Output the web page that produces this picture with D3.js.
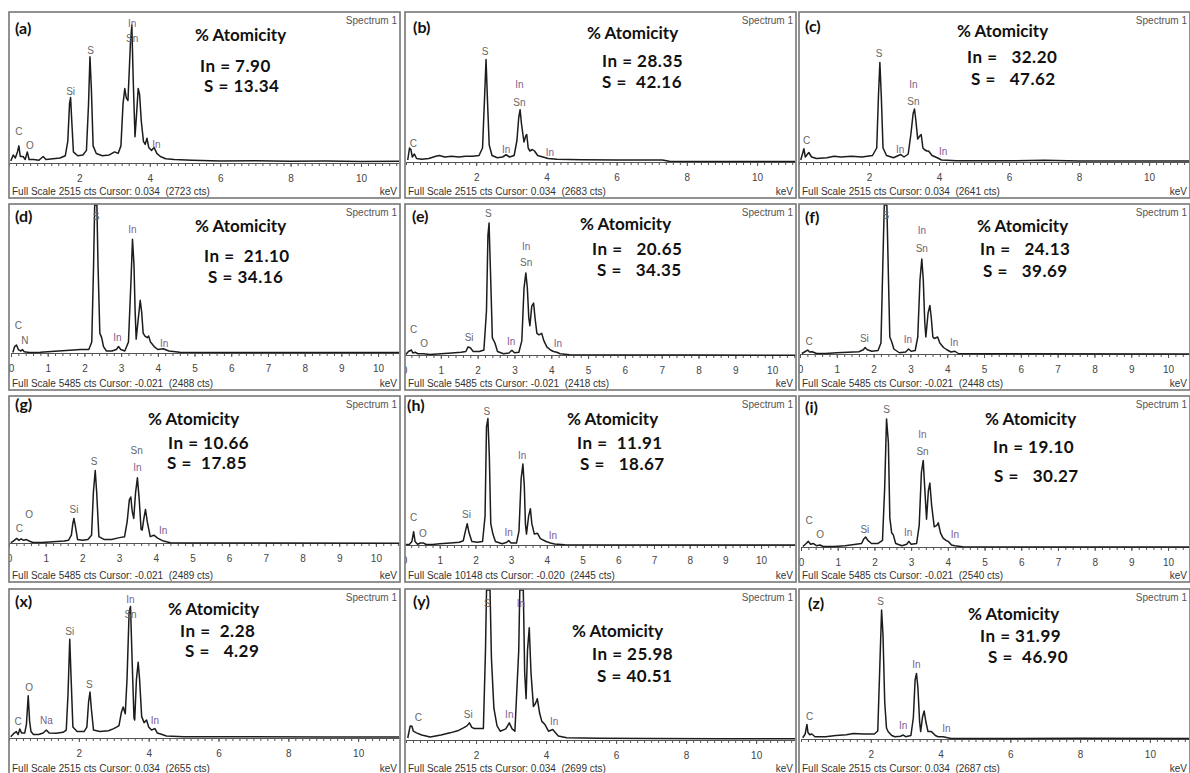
<!DOCTYPE html>
<html>
<head>
<meta charset="utf-8">
<script src="https://cdn.jsdelivr.net/npm/d3@7"></script>
<style>
body{margin:0;background:#fff;}
svg{display:block;}
.tag,.atom{font-family:Lato,"Open Sans",sans-serif;font-weight:700;fill:#111;white-space:pre;}
.small{font-family:"Liberation Sans",Arial,sans-serif;font-size:10px;fill:#444;white-space:pre;}
.axis path,.axis line{stroke:#555;}
.axis text{font-family:"Liberation Sans",Arial,sans-serif;font-size:10px;fill:#444;}
</style>
</head>
<body>
<div id="chart"></div>
<script>
//面板编号及成分数据
var tags = ["a", "b", "c", "d", "e", "f", "g", "h", "i", "x", "y", "z"];
var inAt = [7.90, 28.35, 32.20, 21.10, 20.65, 24.13, 10.66, 11.91, 19.10, 2.28, 25.98, 31.99];
var sAt = [13.34, 42.16, 47.62, 34.16, 34.35, 39.69, 17.85, 18.67, 30.27, 4.29, 40.51, 46.90];
var fullScale = [2515, 2515, 2515, 5485, 5485, 5485, 5485, 10148, 5485, 2515, 2515, 2515];
var cursorKeV = [0.034, 0.034, 0.034, -0.021, -0.021, -0.021, -0.021, -0.020, -0.021, 0.034, 0.034, 0.034];
var cursorCts = [2723, 2683, 2641, 2488, 2418, 2448, 2489, 2445, 2540, 2655, 2699, 2687];

//刻度
var ticksWide = [2, 4, 6, 8, 10];
var ticksFine = [0, 1, 2, 3, 4, 5, 6, 7, 8, 9, 10];

//谱线 [keV, 满量程百分比]
var specA = [[0.05,2],[0.12,6],[0.18,4],[0.24,8],[0.28,12],[0.32,5],[0.4,5],[0.46,3],[0.52,8],[0.57,3],[0.7,3],[0.85,2.5],[0.97,5],[1.05,3],[1.25,3.5],[1.45,4],[1.6,5.5],[1.67,15],[1.72,40],[1.75,44],[1.78,30],[1.83,8],[1.95,5.5],[2.1,6],[2.2,9],[2.26,40],[2.3,71],[2.34,50],[2.39,12],[2.48,7],[2.65,5.5],[2.85,6],[3.0,8],[3.1,7],[3.18,12],[3.24,40],[3.29,50],[3.33,44],[3.38,42],[3.45,80],[3.49,92],[3.53,55],[3.58,18],[3.63,35],[3.67,50],[3.71,46],[3.76,28],[3.82,15],[3.87,13],[3.92,17],[3.97,11],[4.05,9],[4.12,11],[4.2,7],[4.3,5],[4.45,3.5],[4.7,3],[5.2,2.5],[6,2],[7,2.2],[8,1.8],[9,2],[10,1.7],[11.2,1.8]];
var specB = [[0.05,2],[0.1,10],[0.14,9],[0.18,4],[0.24,6],[0.3,3],[0.45,2.5],[0.65,3],[0.85,4.5],[0.95,5],[1.1,4],[1.3,4.5],[1.5,4],[1.7,4.5],[1.9,4.5],[2.08,5],[2.18,10],[2.24,45],[2.28,69],[2.32,42],[2.37,12],[2.45,5],[2.6,3.5],[2.75,4],[2.85,5.5],[2.95,4],[3.08,5],[3.16,15],[3.21,30],[3.25,35.5],[3.29,26],[3.36,14],[3.41,18],[3.44,19],[3.48,10],[3.53,8],[3.6,9],[3.66,8],[3.75,5],[3.9,4],[4.05,3],[4.3,2.5],[5,2.2],[6,2],[7.3,2],[7.5,1.2],[9,1],[11.2,1]];
var specC = [[0.05,2],[0.14,9.5],[0.18,4],[0.28,7],[0.36,4],[0.5,3],[0.8,3.5],[1.0,4.5],[1.2,4],[1.5,4.5],[1.8,4],[2.1,5],[2.22,10],[2.27,45],[2.31,67],[2.35,45],[2.4,10],[2.5,5],[2.7,3.5],[2.9,5.7],[3.0,4],[3.12,6],[3.2,20],[3.26,33],[3.3,36],[3.34,28],[3.39,16],[3.45,18],[3.49,19],[3.54,10],[3.58,9],[3.65,8],[3.7,8],[3.8,5],[3.95,3.5],[4.07,2],[4.5,1.5],[6,1.5],[7,1.8],[8,1.3],[11.2,1.3]];
var specD = [[0.05,1],[0.1,5],[0.15,6],[0.2,3],[0.27,2],[0.31,3],[0.36,1.5],[0.5,1],[0.8,1.2],[1.0,1.5],[1.3,2],[1.6,2.5],[1.9,3],[2.12,3],[2.2,8],[2.25,60],[2.28,100],[2.34,100],[2.37,60],[2.42,14],[2.47,11],[2.52,5],[2.6,2],[2.75,2],[2.87,3],[2.93,5],[2.99,3],[3.1,2],[3.2,8],[3.27,50],[3.31,77],[3.35,60],[3.38,30],[3.41,10],[3.46,22],[3.52,36],[3.56,28],[3.6,14],[3.65,12],[3.71,11],[3.75,12],[3.8,8],[3.9,5],[4.0,3],[4.15,3.5],[4.3,2],[4.6,1.2],[6,1],[8,1],[10.7,1]];
var specE = [[0.05,1],[0.12,3],[0.2,4],[0.24,2],[0.3,2.5],[0.38,1.5],[0.53,1.5],[0.7,1],[1.0,1.5],[1.3,2],[1.55,2.5],[1.68,3],[1.74,6],[1.8,5.5],[1.88,3],[2.05,3],[2.17,4],[2.24,30],[2.28,80],[2.31,88],[2.35,55],[2.4,12],[2.47,8.6],[2.54,3],[2.7,1.5],[2.85,2],[2.93,3.8],[3.0,2.2],[3.12,2.5],[3.2,10],[3.26,45],[3.31,55],[3.35,45],[3.39,25],[3.42,20],[3.47,33],[3.52,35],[3.56,25],[3.61,15],[3.67,14],[3.74,15],[3.8,10],[3.88,6],[3.98,4],[4.06,3],[4.15,2.5],[4.24,1.5],[4.5,0.8],[6,0.6],[8,0.6],[10.7,0.5]];
var specF = [[0.05,1],[0.12,2],[0.21,3.3],[0.26,2],[0.33,2.2],[0.45,1],[0.7,1],[1.0,1.5],[1.3,1.8],[1.6,2.2],[1.72,3.5],[1.77,5],[1.83,3.5],[1.95,2.5],[2.12,3],[2.2,8],[2.25,60],[2.29,100],[2.36,100],[2.4,55],[2.44,12],[2.49,9],[2.55,4],[2.7,1.5],[2.87,2],[2.95,4],[3.02,2.5],[3.13,3],[3.2,12],[3.26,50],[3.31,64],[3.35,50],[3.39,22],[3.42,12],[3.48,28],[3.53,33],[3.57,24],[3.61,12],[3.65,11],[3.74,12],[3.8,8],[3.9,5],[3.99,3.5],[4.1,2],[4.21,2.5],[4.3,1],[5,0.8],[10.7,0.6]];
var specG = [[0.05,1],[0.12,2],[0.21,3.8],[0.27,2.5],[0.33,3.5],[0.4,2.5],[0.48,3],[0.55,2],[0.65,1],[0.9,1],[1.2,1.5],[1.5,2],[1.62,2.5],[1.7,6],[1.74,14],[1.77,17.4],[1.81,12],[1.87,3],[2.0,2.5],[2.15,3],[2.25,6],[2.3,35],[2.35,50],[2.39,35],[2.45,5],[2.6,3],[2.8,3],[2.95,4],[3.05,4.5],[3.15,5],[3.22,15],[3.28,30],[3.32,32],[3.36,22],[3.4,17.4],[3.45,35],[3.5,45],[3.55,30],[3.6,10],[3.63,9.5],[3.68,18],[3.72,23.5],[3.77,15],[3.85,5],[3.95,6],[4.05,4],[4.21,2],[4.4,0.8],[5,0.6],[7,0.6],[10.7,0.5]];
var specH = [[0.05,1],[0.15,1],[0.22,3],[0.27,9.6],[0.31,3],[0.38,1.2],[0.46,2],[0.55,2],[0.62,1],[0.8,1],[1.0,1.5],[1.3,2],[1.55,2.5],[1.66,3.5],[1.72,10],[1.77,15],[1.82,9],[1.9,3],[2.05,2.5],[2.2,3],[2.27,20],[2.31,80],[2.35,85.5],[2.39,60],[2.43,15],[2.49,8],[2.56,3],[2.75,1.5],[2.88,2.5],[2.93,3.6],[3.0,2],[3.15,2],[3.22,10],[3.28,45],[3.33,55],[3.37,40],[3.4,15],[3.43,8],[3.49,20],[3.54,25],[3.58,15],[3.65,8],[3.74,8.5],[3.82,5],[3.98,3],[4.1,2],[4.22,1.3],[4.5,0.8],[6,0.7],[8,0.7],[11,0.7]];
var specI = [[0.05,1],[0.14,3],[0.2,4.4],[0.26,2.5],[0.33,3],[0.42,1.5],[0.52,2],[0.6,1],[0.9,1],[1.2,1.5],[1.5,2.5],[1.65,3],[1.71,6],[1.76,7.3],[1.82,5],[1.92,3],[2.1,3],[2.22,5],[2.28,40],[2.33,85.5],[2.38,70],[2.42,20],[2.47,10],[2.51,9],[2.58,3],[2.75,1.5],[2.88,2.5],[2.94,4.4],[3.0,2.5],[3.15,3],[3.22,15],[3.28,50],[3.33,58],[3.37,40],[3.42,19],[3.47,38],[3.51,43],[3.56,28],[3.63,14],[3.7,15],[3.74,16.7],[3.8,10],[3.87,6.5],[3.95,5],[4.01,4.4],[4.1,2],[4.19,1.5],[4.4,0.8],[6,0.7],[10.7,0.7]];
var specX = [[0.05,1.5],[0.15,4],[0.21,5],[0.26,3],[0.31,6.7],[0.36,4],[0.45,4],[0.5,10],[0.55,29],[0.59,12],[0.63,5],[0.7,3],[0.85,3],[0.98,4],[1.07,6],[1.15,4],[1.35,3.8],[1.55,4.5],[1.64,6],[1.69,30],[1.74,67],[1.78,40],[1.83,8],[1.95,5],[2.15,5],[2.23,8],[2.28,25],[2.32,31.5],[2.36,20],[2.42,6],[2.6,5],[2.85,5.5],[3.0,7],[3.08,8],[3.15,9],[3.22,18],[3.27,21.5],[3.33,17],[3.38,40],[3.44,85],[3.48,89],[3.53,50],[3.58,14],[3.6,12.7],[3.65,40],[3.7,51.5],[3.74,40],[3.8,15],[3.87,11],[3.94,12.7],[4.0,8],[4.08,6],[4.18,7],[4.25,4],[4.32,3.5],[4.51,2],[5,1.5],[7,1.5],[9,1.3],[11.2,1.3]];
var specY = [[0.05,2],[0.12,10],[0.17,9.8],[0.21,6.5],[0.3,5.4],[0.45,4],[0.69,2.6],[1.0,4],[1.26,5.4],[1.5,7],[1.64,8.7],[1.74,10],[1.81,12],[1.88,9],[1.95,8.3],[2.21,8.3],[2.27,60],[2.3,100],[2.4,100],[2.44,55],[2.51,21.7],[2.6,10],[2.69,6.5],[2.85,8],[2.95,12],[3.03,8],[3.11,6.5],[3.22,60],[3.25,100],[3.35,100],[3.39,45],[3.43,28],[3.47,60],[3.52,75],[3.57,45],[3.64,22.8],[3.7,25],[3.75,28],[3.82,18],[3.88,13],[3.97,10.9],[4.07,6.5],[4.19,7.6],[4.35,3.3],[4.59,2.2],[5.5,1.8],[7,1.7],[9,1.5],[11.2,1.5]];
var specZ = [[0.05,1.5],[0.12,4],[0.17,10.4],[0.2,5],[0.25,3.5],[0.31,4],[0.4,2.2],[0.7,2.2],[1.0,3],[1.3,3.5],[1.5,4.4],[1.8,4],[2.1,4],[2.2,6],[2.26,50],[2.31,86.7],[2.35,70],[2.4,25],[2.45,8],[2.5,5.5],[2.6,3],[2.69,2.2],[2.85,2.5],[2.93,3.3],[3.0,2.2],[3.15,3],[3.22,15],[3.27,40],[3.31,44.4],[3.35,35],[3.4,12],[3.43,5.6],[3.48,15],[3.53,19.3],[3.58,12],[3.64,5.6],[3.74,5.6],[3.85,3],[3.93,2.2],[4.07,2.2],[4.3,1],[6,1],[8,1.2],[11.2,1]];
var spectra = [specA, specB, specC, specD, specE, specF, specG, specH, specI, specX, specY, specZ];

//峰标注 [元素, keV, 百分比]
var labA = [["C",0.28,19],["O",0.59,10],["Si",1.75,46],["S",2.32,73],["In",3.5,91],["Sn",3.5,81],["In",4.19,10.6]];
var labB = [["C",0.21,11],["S",2.25,72],["In",3.23,50],["Sn",3.23,38],["In",2.85,6.7],["In",4.1,5]];
var labC = [["C",0.22,13],["S",2.29,70.6],["In",3.27,50],["Sn",3.27,39],["In",2.89,7],["In",4.12,5.5]];
var labD = [["C",0.2,16.7],["N",0.38,7],["S",2.32,90],["In",3.31,81],["In",2.9,8.5],["In",4.17,5]];
var labE = [["C",0.26,15],["O",0.55,6],["Si",1.77,10],["S",2.29,92],["In",3.32,70],["Sn",3.32,59.5],["In",2.91,7.5],["In",4.18,6]];
var labF = [["C",0.25,6.7],["Si",1.75,9],["S",2.33,91],["In",3.31,81],["Sn",3.31,69],["In",2.93,7.8],["In",4.19,6]];
var labG = [["C",0.28,8],["O",0.55,18],["Si",1.77,21],["S",2.32,54],["Sn",3.48,61],["In",3.5,50],["In",4.2,6.8]];
var labH = [["C",0.27,17],["O",0.53,5.8],["Si",1.75,18.5],["S",2.32,88],["In",3.31,58.7],["In",2.93,6.7],["In",4.17,5]];
var labI = [["C",0.22,16],["O",0.52,6.7],["Si",1.74,10],["S",2.33,89.5],["In",3.31,72.7],["Sn",3.31,61.5],["In",2.92,7.8],["In",4.19,6.7]];
var labX = [["C",0.26,9.3],["O",0.58,32],["Na",1.07,9.8],["Si",1.74,70],["S",2.3,34],["In",3.48,91],["Sn",3.48,81.5],["In",4.18,9.8]];
var labY = [["C",0.35,13],["Si",1.78,15],["S",2.32,89],["In",3.28,89],["In",2.95,15],["In",4.23,10.9]];
var labZ = [["C",0.25,13.3],["S",2.28,90],["In",3.31,48],["In",2.93,7.3],["In",4.17,5.6]];
var peakLabels = [labA, labB, labC, labD, labE, labF, labG, labH, labI, labX, labY, labZ];

/***** 布局 *****/
var W = 1190, H = 773;
var colX = [9, 405, 799];
var rowY = [12, 204, 396, 589];
var panelW = 391, panelH = 186;
var plotRight = 390;

//每个面板: x0, xMax, 基线, 文字位置, 等号后空格数
var layout = [
    {x0: 0, xMax: 11.08, base: 152, tag: [6, 22], atom: [186, 29], inL: [191, 60], sL: [195, 80], pad: [1, 1]},
    {x0: 1, xMax: 11.08, base: 151, tag: [8, 21], atom: [182, 27], inL: [197, 55], sL: [197, 76], pad: [1, 2]},
    {x0: 0, xMax: 11.14, base: 151, tag: [6, 20], atom: [158, 25], inL: [168, 51], sL: [172, 73], pad: [3, 3]},
    {x0: 2, xMax: 10.57, base: 150, tag: [6, 18], atom: [186, 28], inL: [195, 58], sL: [199, 79], pad: [2, 1]},
    {x0: -1, xMax: 10.62, base: 152, tag: [7, 18], atom: [175, 26], inL: [187, 51], sL: [192, 72], pad: [3, 3]},
    {x0: 1, xMax: 10.57, base: 151, tag: [6, 19], atom: [178, 28], inL: [181, 51], sL: [184, 73], pad: [3, 3]},
    {x0: 0, xMax: 10.63, base: 148, tag: [6, 14], atom: [139, 29], inL: [159, 53], sL: [158, 73], pad: [1, 2]},
    {x0: -1, xMax: 10.95, base: 150, tag: [2, 15], atom: [162, 29], inL: [172, 53], sL: [175, 74], pad: [2, 3]},
    {x0: 2, xMax: 10.57, base: 152, tag: [6, 17], atom: [186, 29], inL: [194, 57], sL: [195, 86], pad: [1, 3]},
    {x0: 0, xMax: 11.17, base: 150, tag: [6, 18], atom: [159, 26], inL: [171, 48], sL: [176, 68], pad: [2, 3]},
    {x0: 1, xMax: 11.11, base: 152, tag: [8, 18], atom: [167, 48], inL: [187, 71], sL: [192, 93], pad: [1, 1]},
    {x0: 2, xMax: 11.12, base: 151, tag: [9, 20], atom: [169, 31], inL: [181, 53], sL: [189, 74], pad: [1, 2]}
];

var inColor = "#80608f", elColor = "#666";

function spaces(n) {
    return new Array(n + 1).join(" ");
}

var svg = d3.select("#chart").append("svg")
    .attr("width", W)
    .attr("height", H);
var defs = svg.append("defs");

tags.forEach(function (tag, i) {
    var L = layout[i];
    var col = i % 3, row = Math.floor(i / 3);
    var fine = fullScale[i] !== 2515;

    defs.append("clipPath").attr("id", "panel" + i)
        .append("rect").attr("x", 0).attr("y", 0).attr("width", panelW).attr("height", panelH);
    defs.append("clipPath").attr("id", "plot" + i)
        .append("rect").attr("x", 0).attr("y", 0).attr("width", plotRight).attr("height", L.base);

    var g = svg.append("g")
        .attr("transform", "translate(" + colX[col] + "," + rowY[row] + ")");
    var inner = g.append("g").attr("clip-path", "url(#panel" + i + ")");

    var x = d3.scaleLinear().domain([0, L.xMax]).range([L.x0, plotRight]);
    var y = d3.scaleLinear().domain([0, 100]).range([L.base, 1]);

    //坐标轴: 次刻度
    inner.append("g").attr("class", "axis")
        .attr("transform", "translate(0," + (L.base - 1) + ")")
        .call(d3.axisBottom(x).tickValues(d3.range(0, L.xMax, 0.2)).tickSize(3).tickSizeOuter(0).tickFormat(""));
    //主刻度
    inner.append("g").attr("class", "axis")
        .attr("transform", "translate(0," + (L.base - 1) + ")")
        .call(d3.axisBottom(x).tickValues(fine ? ticksFine : ticksWide).tickSize(4).tickSizeOuter(0).tickPadding(8))
        .call(function (a) { a.select(".domain").remove(); });

    //谱线
    var line = d3.line()
        .x(function (d) { return x(d[0]); })
        .y(function (d) { return y(d[1]); });
    inner.append("path")
        .datum(spectra[i])
        .attr("clip-path", "url(#plot" + i + ")")
        .attr("d", line)
        .attr("fill", "none")
        .attr("stroke", "#1c1c1c")
        .attr("stroke-width", 1.5)
        .attr("stroke-linejoin", "round");

    //元素标注
    inner.selectAll("text.el").data(peakLabels[i]).enter().append("text")
        .attr("class", "small el")
        .attr("x", function (d) { return x(d[1]); })
        .attr("y", function (d) { return y(d[2]); })
        .attr("text-anchor", "middle")
        .style("fill", function (d) { return (d[0] === "In" || d[0] === "Na") ? inColor : elColor; })
        .text(function (d) { return d[0]; });

    //文字
    inner.append("text").attr("class", "tag")
        .attr("x", L.tag[0]).attr("y", L.tag[1])
        .style("font-size", "16px")
        .text("(" + tag + ")");
    inner.append("text").attr("class", "atom")
        .attr("x", L.atom[0]).attr("y", L.atom[1])
        .style("font-size", "17px")
        .text("% Atomicity");
    inner.append("text").attr("class", "atom")
        .attr("x", L.inL[0]).attr("y", L.inL[1])
        .style("font-size", "17px")
        .style("letter-spacing", "0.5px")
        .text("In =" + spaces(L.pad[0]) + inAt[i].toFixed(2));
    inner.append("text").attr("class", "atom")
        .attr("x", L.sL[0]).attr("y", L.sL[1])
        .style("font-size", "17px")
        .style("letter-spacing", "0.5px")
        .text("S =" + spaces(L.pad[1]) + sAt[i].toFixed(2));

    inner.append("text").attr("class", "small")
        .attr("x", 388).attr("y", 12)
        .attr("text-anchor", "end")
        .style("fill", "#555")
        .text("Spectrum 1");
    inner.append("text").attr("class", "small")
        .attr("x", 3).attr("y", 182.5)
        .style("fill", "#333")
        .text("Full Scale " + fullScale[i] + " cts Cursor: " + cursorKeV[i].toFixed(3) + "  (" + cursorCts[i] + " cts)");
    inner.append("text").attr("class", "small")
        .attr("x", 388).attr("y", 182.5)
        .attr("text-anchor", "end")
        .style("fill", "#333")
        .text("keV");

    //边框
    g.append("rect")
        .attr("x", 0).attr("y", 0)
        .attr("width", panelW).attr("height", panelH)
        .attr("fill", "none")
        .attr("stroke", "#777")
        .attr("stroke-width", 1.6);
});
</script>
</body>
</html>
